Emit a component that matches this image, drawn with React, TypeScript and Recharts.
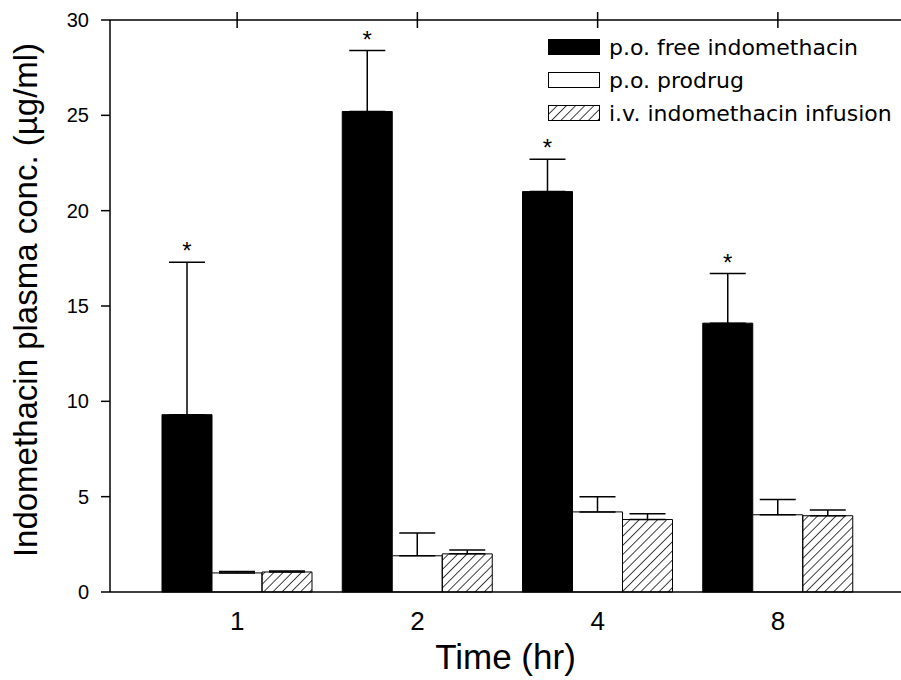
import React from 'react';
import {
  BarChart,
  Bar,
  XAxis,
  YAxis,
  ErrorBar,
  LabelList,
  Legend,
} from 'recharts';

const times = ['1', '2', '4', '8'];
const freeMean = [9.3, 25.2, 21.0, 14.1];
const freeSd = [8.0, 3.2, 1.7, 2.6];
const prodrugMean = [1.0, 1.9, 4.2, 4.05];
const prodrugSd = [0.08, 1.2, 0.8, 0.8];
const ivMean = [1.05, 2.0, 3.8, 4.0];
const ivSd = [0.05, 0.2, 0.3, 0.3];
const yTicks = [0, 5, 10, 15, 20, 25, 30];

const seriesNames = ['p.o. free indomethacin', 'p.o. prodrug', 'i.v. indomethacin infusion'];

const data = times.map((t, i) => ({
  time: t,
  free: freeMean[i],
  freeErr: [0, freeSd[i]],
  prodrug: prodrugMean[i],
  prodrugErr: [0, prodrugSd[i]],
  iv: ivMean[i],
  ivErr: [0, ivSd[i]],
}));

const AXIS_FONT = '"Liberation Sans", Arial, sans-serif';

// asterisk above the error bar of the free indomethacin bars
const Asterisk = (props: any) => {
  const { x, y, width, height, value, index } = props;
  if (!value) return null;
  const perUnit = height / value;
  const top = y - freeSd[index] * perUnit;
  return (
    <text x={x + width / 2} y={top - 3} textAnchor="middle" fontSize={24} fontFamily={AXIS_FONT} fill="#000">
      *
    </text>
  );
};

// top axis ticks cross the line (axis line sits at y + 8 of the tick box)
const renderTopTick = (props: any) => {
  const { x, y } = props;
  return <line x1={x} x2={x} y1={y} y2={y + 16} stroke="#000" strokeWidth={1.5} />;
};

const YLabel = (props: any) => {
  const vb = props.viewBox || { x: 0, y: 20, height: 572 };
  const cy = vb.y + vb.height / 2 - 6;
  return (
    <text
      transform={`translate(37, ${cy}) rotate(-90)`}
      textAnchor="middle"
      fontSize={33}
      fontFamily={AXIS_FONT}
      fill="#000"
    >
      Indomethacin plasma conc. (µg/ml)
    </text>
  );
};

const Swatch = ({ kind }: { kind: number }) => (
  <svg width={52} height={17} style={{ display: 'block' }}>
    <defs>
      <pattern id="legendHatch" patternUnits="userSpaceOnUse" width={6.5} height={6.5} patternTransform="rotate(45)">
        <line x1={0} y1={0} x2={0} y2={6.5} stroke="#000" strokeWidth={1.5} />
      </pattern>
    </defs>
    <rect
      x={0.5}
      y={0.5}
      width={51}
      height={15}
      fill={kind === 0 ? '#000' : kind === 1 ? '#fff' : 'url(#legendHatch)'}
      stroke="#000"
      strokeWidth={1}
    />
  </svg>
);

const LegendContent = () => (
  <div style={{ fontFamily: '"DejaVu Sans", Verdana, sans-serif', fontSize: 22, color: '#000' }}>
    {seriesNames.map((name, i) => (
      <div key={name} style={{ display: 'flex', alignItems: 'center', height: 33 }}>
        <Swatch kind={i} />
        <span style={{ marginLeft: 9, whiteSpace: 'nowrap', lineHeight: '22px' }}>{name}</span>
      </div>
    ))}
  </div>
);

export default function App() {
  return (
    <div style={{ position: 'absolute', left: 0, top: 0, width: 901, height: 680, background: '#fff' }}>
      <BarChart
        width={901}
        height={680}
        data={data}
        margin={{ top: 12, right: 0, bottom: 0, left: 0 }}
        barCategoryGap={15}
        barGap={0}
      >
        <defs>
          <pattern id="hatch" patternUnits="userSpaceOnUse" width={6.5} height={6.5} patternTransform="rotate(45)">
            <line x1={0} y1={0} x2={0} y2={6.5} stroke="#000" strokeWidth={1.5} />
          </pattern>
        </defs>
        <XAxis
          dataKey="time"
          xAxisId="bottom"
          height={88}
          padding={{ left: 37, right: 33 }}
          stroke="#000"
          strokeWidth={1.5}
          tickLine={false}
          tickSize={0}
          tickMargin={20}
          tick={{ fill: '#000', fontSize: 26, fontFamily: AXIS_FONT }}
          label={{
            value: 'Time (hr)',
            position: 'insideBottom',
            offset: 11,
            fill: '#000',
            fontSize: 35,
            fontFamily: AXIS_FONT,
          }}
        />
        <XAxis
          dataKey="time"
          xAxisId="top"
          orientation="top"
          height={8}
          interval={0}
          padding={{ left: 37, right: 33 }}
          stroke="#000"
          strokeWidth={1.5}
          tickLine={false}
          tickSize={8}
          tickMargin={0}
          tick={renderTopTick}
        />
        <YAxis
          width={110}
          domain={[0, 30]}
          ticks={yTicks}
          interval={0}
          stroke="#000"
          strokeWidth={1.5}
          tickSize={9}
          tickMargin={12}
          tick={{ fill: '#000', fontSize: 20, fontFamily: AXIS_FONT }}
          label={<YLabel />}
        />
        <Legend
          layout="vertical"
          align="center"
          verticalAlign="middle"
          content={<LegendContent />}
          wrapperStyle={{ left: 548, top: 31, width: 353, height: 100 }}
        />
        <Bar dataKey="free" xAxisId="bottom" name={seriesNames[0]} fill="#000" stroke="#000" isAnimationActive={false}>
          <ErrorBar dataKey="freeErr" width={18} stroke="#000" strokeWidth={1.5} direction="y" />
          <LabelList dataKey="free" content={<Asterisk />} />
        </Bar>
        <Bar dataKey="prodrug" xAxisId="bottom" name={seriesNames[1]} fill="#fff" stroke="#000" strokeWidth={1} isAnimationActive={false}>
          <ErrorBar dataKey="prodrugErr" width={18} stroke="#000" strokeWidth={1.5} direction="y" />
        </Bar>
        <Bar dataKey="iv" xAxisId="bottom" name={seriesNames[2]} fill="url(#hatch)" stroke="#000" strokeWidth={1} isAnimationActive={false}>
          <ErrorBar dataKey="ivErr" width={18} stroke="#000" strokeWidth={1.5} direction="y" />
        </Bar>
      </BarChart>
    </div>
  );
}
